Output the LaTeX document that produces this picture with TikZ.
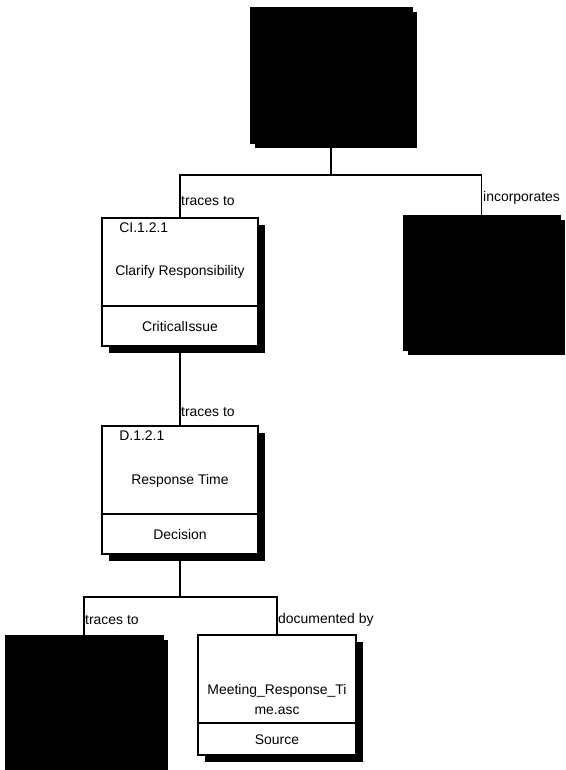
\documentclass[tikz,border=0pt]{standalone}
\usepackage{fontspec}
\setmainfont{Liberation Sans}
\usetikzlibrary{shadows}
\begin{document}
\begin{tikzpicture}[x=1bp,y=-1bp,
  conn/.style={line width=1.8bp},
  lbl/.style={anchor=west, inner sep=1bp, font=\fontsize{14}{16}\selectfont},
  txt/.style={inner sep=0pt, font=\fontsize{14}{16}\selectfont},
  blackbox/.style={draw=black, fill=black, rectangle, inner sep=0pt,
    general shadow={fill=black, shadow xshift=5bp, shadow yshift=-5bp}},
  entity/.style={draw=black, fill=white, line width=1.6bp, rectangle, inner sep=0pt,
    general shadow={fill=black, shadow xshift=7bp, shadow yshift=-7bp}},
  divider/.style={line width=1.6bp},
]
\fill[white] (0,0) rectangle (566,770);
\useasboundingbox (0,0) rectangle (566,770);

% boxes
\node[blackbox, minimum width=162bp, minimum height=136bp] (top) at (331,75) {};
\node[blackbox, minimum width=157bp, minimum height=135bp] (inc) at (481.5,282.5) {};
\node[blackbox, minimum width=158bp, minimum height=140bp] (tl) at (84,705) {};
\node[entity, minimum width=156bp, minimum height=128bp] (ci) at (180,282) {};
\node[entity, minimum width=156bp, minimum height=128bp] (d) at (180,490) {};
\node[entity, minimum width=158bp, minimum height=120bp] (src) at (277,695) {};

% dividers
\draw[divider] ([yshift=41bp]ci.south west) -- ([yshift=41bp]ci.south east);
\draw[divider] ([yshift=41bp]d.south west) -- ([yshift=41bp]d.south east);
\draw[divider] ([yshift=33bp]src.south west) -- ([yshift=33bp]src.south east);

% texts in boxes
\node[txt, anchor=west] (ciid) at ([xshift=18bp,yshift=-10bp]ci.north west) {CI.1.2.1};
\node[txt] (cit) at ([yshift=-55bp]ci.north) {Clarify Responsibility};
\node[txt] (cik) at ([yshift=20bp]ci.south) {CriticalIssue};

\node[txt, anchor=west] (did) at ([xshift=18bp,yshift=-10bp]d.north west) {D.1.2.1};
\node[txt] (dt) at ([yshift=-56bp]d.north) {Response Time};
\node[txt] (dk) at ([yshift=20bp]d.south) {Decision};

\node[txt] (srct1) at ([yshift=-57bp]src.north) {Meeting\_Response\_Ti};
\node[txt] (srct2) at ([yshift=-77bp]src.north) {me.asc};
\node[txt] (srck) at ([yshift=16bp]src.south) {Source};

% connectors
\coordinate (j1) at (331,175);
\draw[conn] (top.south) -- (j1);
\draw[conn] (j1) -| (ci.north);
\draw[conn] (j1) -| (inc.north);
\draw[conn] (ci.south) -- (d.north);
\coordinate (j2) at (180,597);
\draw[conn] (d.south) -- (j2);
\draw[conn] (j2) -| (tl.north);
\draw[conn] (j2) -| (src.north);

% labels
\node[lbl] (l1) at (180,201) {traces to};
\node[lbl] (l2) at (482,198) {incorporates};
\node[lbl] (l3) at (180,412) {traces to};
\node[lbl] (l4) at (84,620) {traces to};
\node[lbl] (l5) at (277,620) {documented by};
\end{tikzpicture}
\end{document}
